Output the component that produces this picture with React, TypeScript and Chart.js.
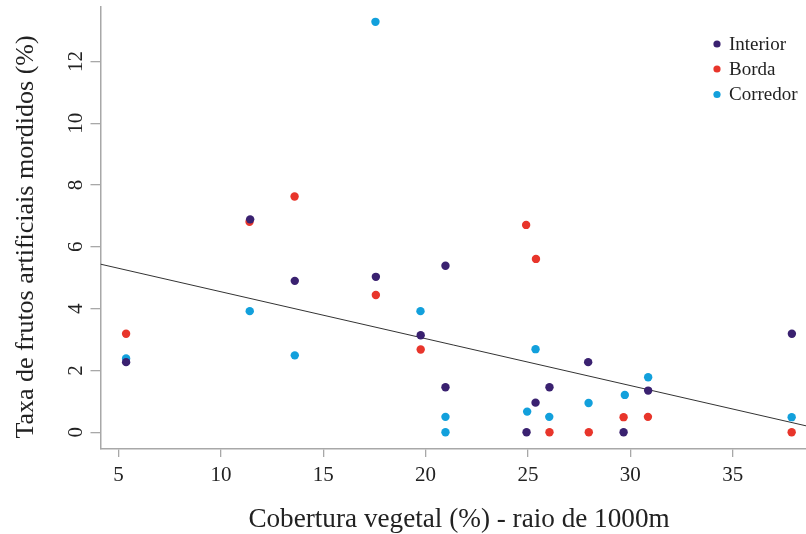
import React, { useEffect, useRef } from "react";
import { Chart, registerables } from "chart.js";

Chart.register(...registerables);

// ---- data ----
const interiorX = [5.37, 11.43, 13.61, 17.57, 19.76, 20.97, 20.97, 24.93, 25.37, 26.05, 27.94, 29.67, 30.87, 37.89];
const interiorY = [2.27, 6.89, 4.9, 5.03, 3.14, 5.39, 1.46, 0, 0.96, 1.46, 2.27, 0, 1.35, 3.19];

const bordaX = [5.37, 11.4, 13.6, 17.57, 19.76, 24.91, 25.39, 26.05, 27.97, 29.67, 30.86, 37.88];
const bordaY = [3.19, 6.81, 7.63, 4.44, 2.68, 6.71, 5.61, 0, 0, 0.49, 0.5, 0];

const corredorX = [5.37, 11.41, 13.61, 17.55, 19.75, 20.97, 20.97, 24.96, 25.37, 26.04, 27.96, 29.73, 30.87, 37.88];
const corredorY = [2.39, 3.92, 2.49, 13.28, 3.92, 0.5, 0, 0.67, 2.69, 0.5, 0.95, 1.21, 1.78, 0.49];

// fitted regression line end points
const regX = [4.12, 38.58];
const regY = [5.44, 0.21];

const xTicks = [5, 10, 15, 20, 25, 30, 35];
const yTicks = [0, 2, 4, 6, 8, 10, 12];

const seriesNames = ["Interior", "Borda", "Corredor"];
const seriesColors = ["#3a2170", "#e8352b", "#12a0dc"];

const xTitle = "Cobertura vegetal (%) - raio de 1000m";
const yTitle = "Taxa de frutos artificiais mordidos (%)";

const X_MIN = 4.12;
const X_MAX = 38.58;
const Y_MIN = -0.54;
const Y_MAX = 13.76;

const FONT = '"Liberation Serif", "Times New Roman", serif';

const toPoints = (xs: number[], ys: number[]) => xs.map((x, i) => ({ x, y: ys[i] }));

const textPlugin = {
  id: "customText",
  afterDraw(chart: any) {
    const ctx = chart.ctx;
    const xs = chart.scales.x;
    const ys = chart.scales.y;
    ctx.save();
    ctx.fillStyle = "#222";
    ctx.font = `21px ${FONT}`;
    ctx.textAlign = "center";
    ctx.textBaseline = "alphabetic";
    xTicks.forEach((v) => ctx.fillText(String(v), xs.getPixelForValue(v), 481));
    yTicks.forEach((v) => {
      ctx.save();
      ctx.translate(82, ys.getPixelForValue(v));
      ctx.rotate(-Math.PI / 2);
      ctx.fillText(String(v), 0, 0);
      ctx.restore();
    });
    // axis titles
    ctx.font = `27.2px ${FONT}`;
    ctx.fillText(xTitle, 459, 527);
    ctx.font = `26px ${FONT}`;
    ctx.save();
    ctx.translate(33, 237);
    ctx.rotate(-Math.PI / 2);
    ctx.fillText(yTitle, 0, 0);
    ctx.restore();
    // legend
    ctx.font = `19px ${FONT}`;
    ctx.textAlign = "left";
    const ly = [44, 69, 94.5];
    seriesNames.forEach((name, i) => {
      ctx.fillStyle = seriesColors[i];
      ctx.beginPath();
      ctx.arc(717, ly[i], 3.6, 0, Math.PI * 2);
      ctx.fill();
      ctx.fillStyle = "#222";
      ctx.fillText(name, 729, ly[i] + 5.5);
    });
    ctx.restore();
  },
};

export default function App() {
  const ref = useRef<HTMLCanvasElement | null>(null);
  useEffect(() => {
    document.body.style.margin = "0";
    const canvas = ref.current;
    if (!canvas) return;
    const scatterDs = (i: number, xs: number[], ys: number[]) => ({
      type: "scatter" as const,
      label: seriesNames[i],
      data: toPoints(xs, ys),
      backgroundColor: seriesColors[i],
      borderWidth: 0,
      pointRadius: 4.2,
      pointHoverRadius: 4.2,
    });
    const chart = new Chart(canvas, {
      type: "scatter",
      data: {
        datasets: [
          scatterDs(0, interiorX, interiorY),
          scatterDs(1, bordaX, bordaY),
          scatterDs(2, corredorX, corredorY),
          {
            type: "line" as const,
            label: "fit",
            data: toPoints(regX, regY),
            borderColor: "#333",
            borderWidth: 1,
            pointRadius: 0,
            showLine: true,
            fill: false,
          } as any,
        ],
      },
      options: {
        animation: false,
        responsive: false,
        devicePixelRatio: 1,
        layout: { autoPadding: false, padding: { left: 0, right: 0, top: 7, bottom: 0 } },
        plugins: { legend: { display: false }, tooltip: { enabled: false } },
        scales: {
          x: {
            type: "linear",
            min: X_MIN,
            max: X_MAX,
            afterBuildTicks: (s: any) => {
              s.ticks = xTicks.map((v) => ({ value: v }));
            },
            afterFit: (s: any) => {
              s.height = 534 - 449;
              s.paddingLeft = 0;
              s.paddingRight = 0;
            },
            ticks: { display: false },
            grid: { display: true, drawOnChartArea: false, drawTicks: true, tickLength: 8, color: "#a8a8a8", lineWidth: 1.3 },
            border: { display: true, color: "#a8a8a8", width: 1.5 },
          },
          y: {
            type: "linear",
            min: Y_MIN,
            max: Y_MAX,
            afterBuildTicks: (s: any) => {
              s.ticks = yTicks.map((v) => ({ value: v }));
            },
            afterFit: (s: any) => {
              s.width = 100.5;
              s.paddingTop = 0;
              s.paddingBottom = 0;
            },
            ticks: { display: false },
            grid: { display: true, drawOnChartArea: false, drawTicks: true, tickLength: 10, color: "#a8a8a8", lineWidth: 1.3 },
            border: { display: true, color: "#a8a8a8", width: 1.5 },
          },
        },
      },
      plugins: [textPlugin],
    });
    return () => chart.destroy();
  }, []);
  return (
    <div style={{ position: "absolute", left: 0, top: 0, width: 806, height: 534 }}>
      <canvas ref={ref} width={806} height={534} />
    </div>
  );
}
